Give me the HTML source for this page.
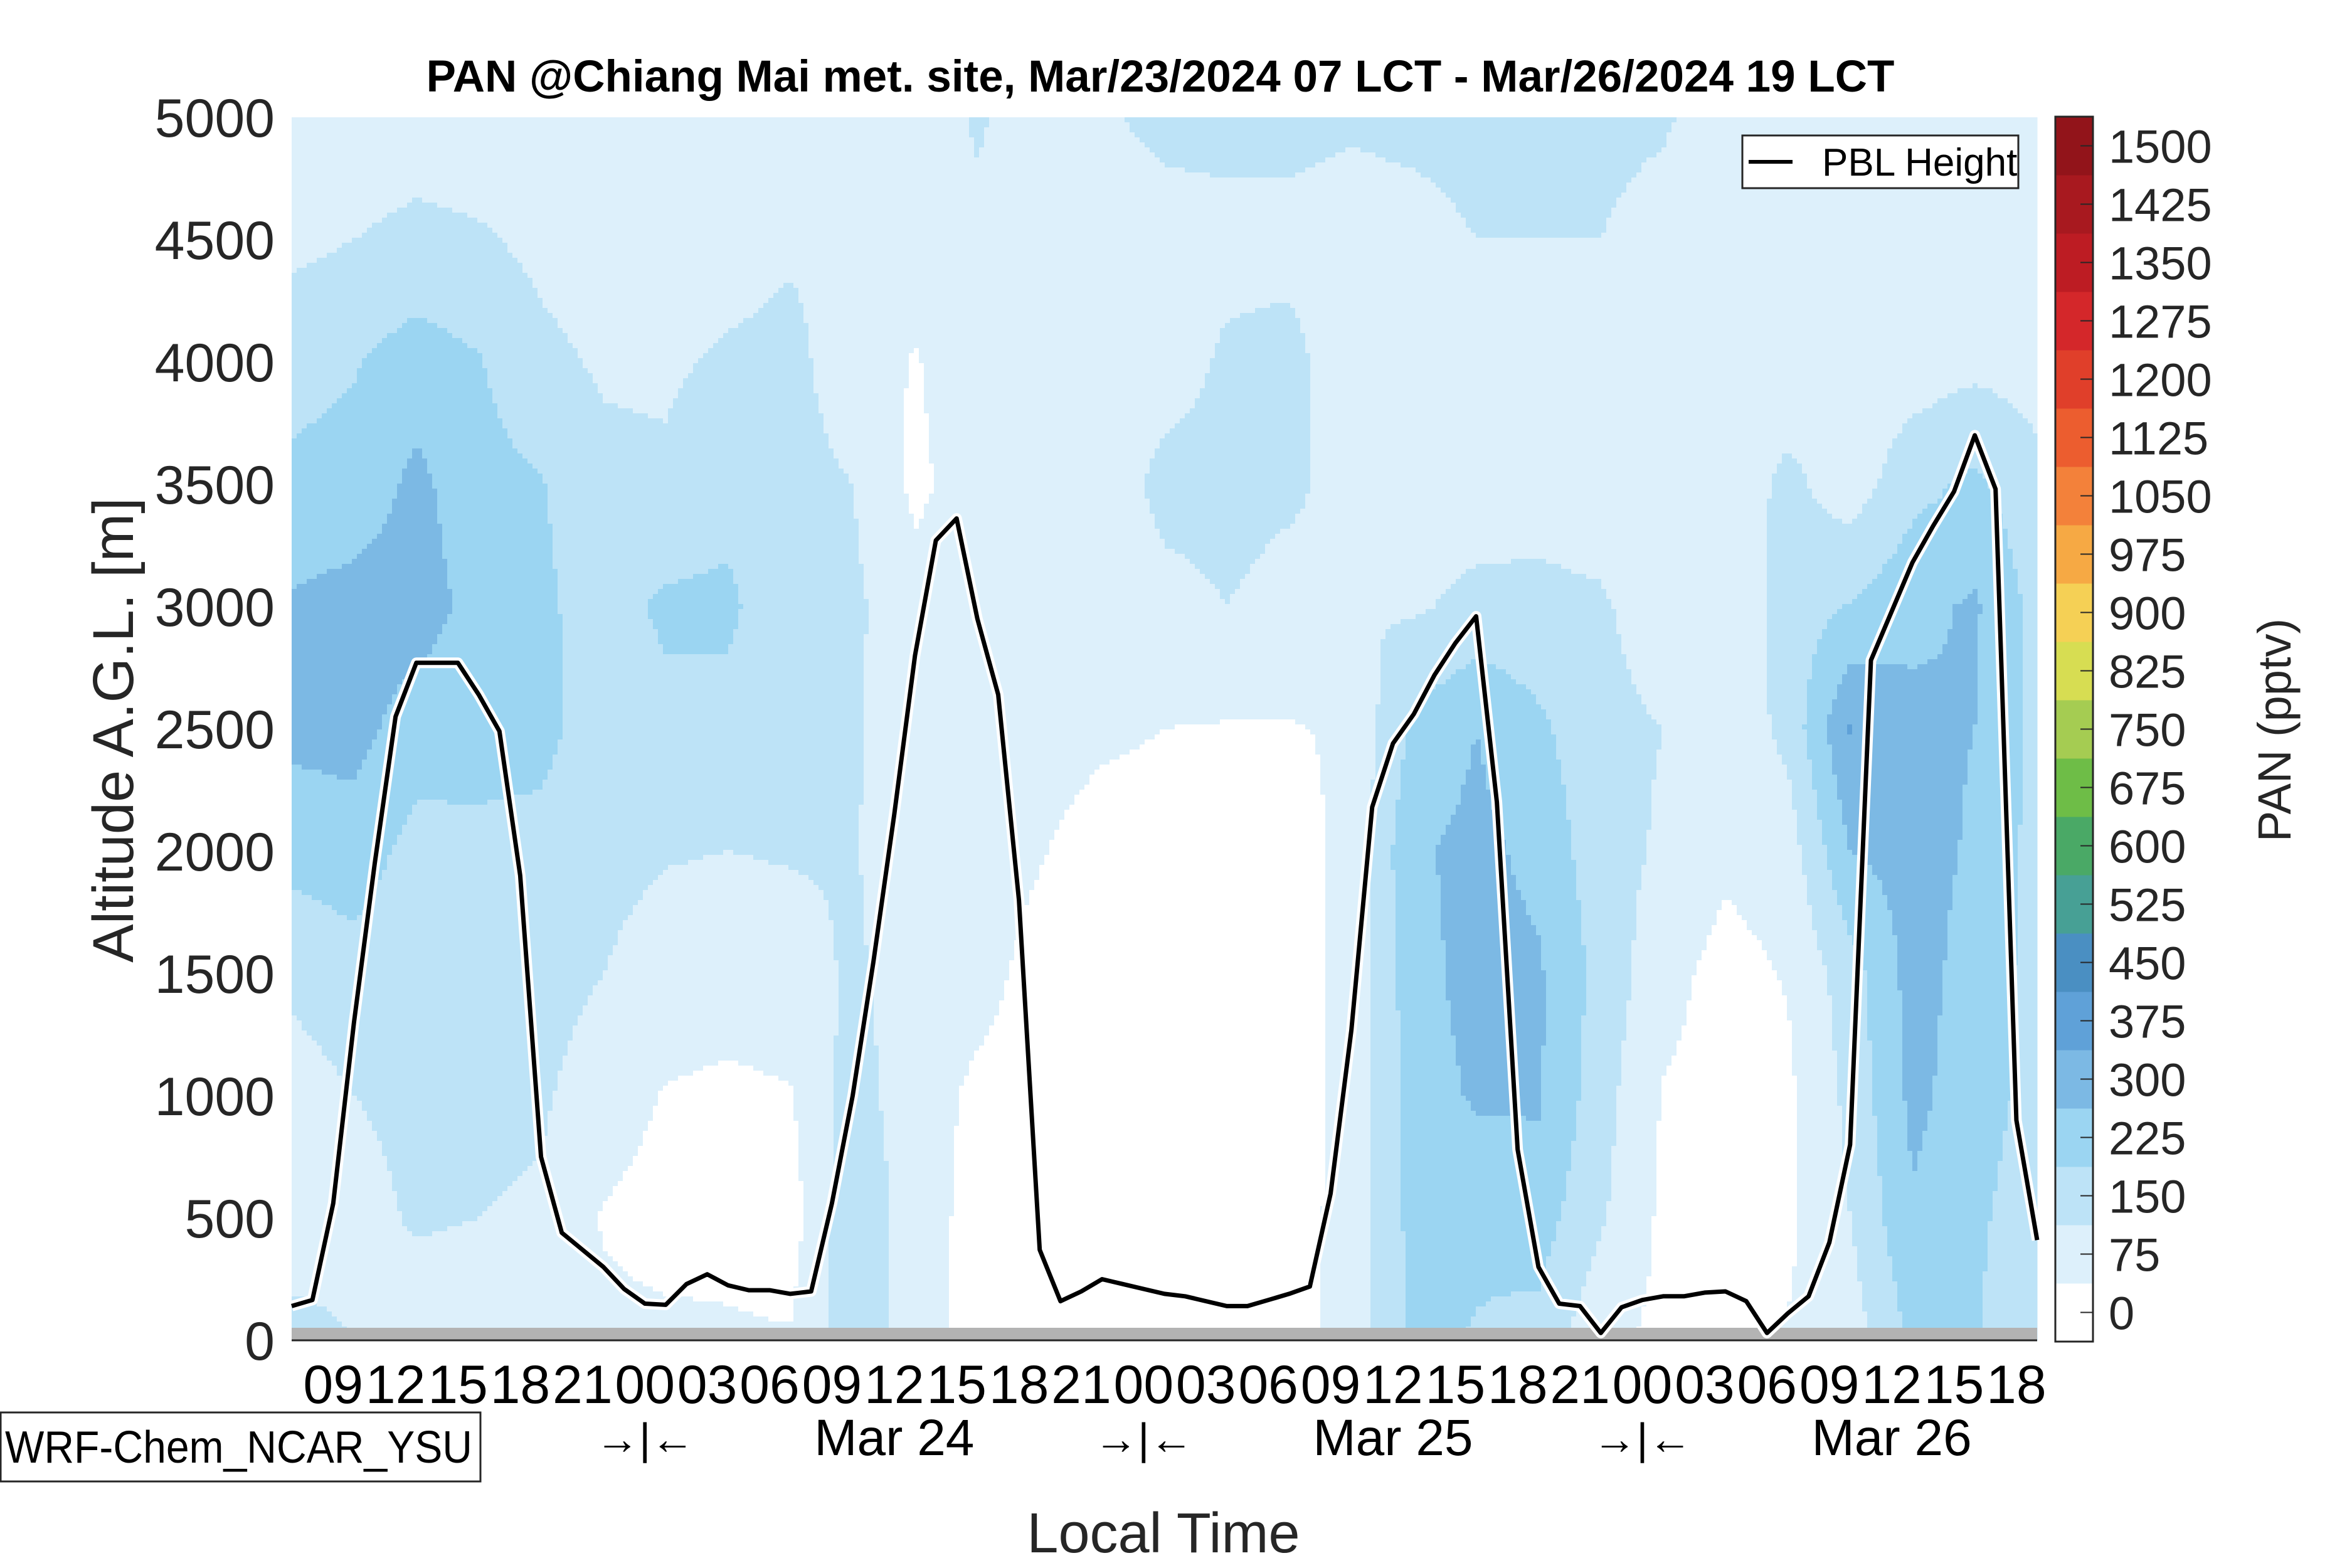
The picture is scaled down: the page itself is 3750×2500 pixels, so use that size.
<!DOCTYPE html>
<html><head><meta charset="utf-8">
<style>
html,body{margin:0;padding:0;background:#fff;}
svg{display:block;font-family:"Liberation Sans",sans-serif;}
</style></head>
<body>
<svg id="chart" xmlns="http://www.w3.org/2000/svg" width="3750" height="2500" viewBox="0 0 3750 2500">
<g id="field"></g>
<rect x="465" y="2117" width="2783" height="20" fill="#b3b3b3"/>
<g id="pbl"></g>
<line x1="465" y1="2137" x2="3248" y2="2137" stroke="#262626" stroke-width="3"/>
<g id="yticks"></g>
<g id="xticks"></g>
<g id="cbar"></g>
<text x="1850" y="146" font-size="71" font-weight="bold" text-anchor="middle" fill="#000">PAN @Chiang Mai met. site, Mar/23/2024 07 LCT - Mar/26/2024 19 LCT</text>
<text x="0" y="0" transform="translate(212,1164) rotate(-90)" font-size="92" text-anchor="middle" fill="#262626">Altitude A.G.L. [m]</text>
<text x="1855" y="2475" font-size="90" text-anchor="middle" fill="#262626">Local Time</text>
<text x="0" y="0" transform="translate(3652,1164) rotate(-90)" font-size="74" text-anchor="middle" fill="#262626">PAN (pptv)</text>
<g>
<rect x="1" y="2252" width="765" height="110" fill="#fff" stroke="#262626" stroke-width="3"/>
<text x="8" y="2332" font-size="72" textLength="745" lengthAdjust="spacingAndGlyphs" fill="#000">WRF-Chem_NCAR_YSU</text>
</g>
<g>
<rect x="2778" y="216" width="440" height="84" fill="#fff" stroke="#262626" stroke-width="3"/>
<line x1="2788" y1="258" x2="2858" y2="258" stroke="#000" stroke-width="6"/>
<text x="2905" y="280" font-size="62" fill="#000">PBL Height</text>
</g>
</svg>
<script>
// ---- data ----
const timeHours = [0,3,6,9,12,15,18,21,24,27,30,33,36,39,42,45,48,51,54,57,60,63,66,69,72,75,78,81,84];
const altitudes = [0,500,1000,1500,2000,2500,3000,3500,4000,4500,5000];
const panGrid = [
[180,100,110,170,250,320,310,240,200,130,100],
[150,120,150,200,260,330,330,250,220,150,100],
[100,160,170,180,200,260,340,320,260,170,110],
[100,150,170,220,210,250,270,250,230,160,100],
[100,140,160,180,200,250,240,230,170,130,100],
[90,70,110,150,170,180,190,170,140,110,95],
[90,50,70,120,155,200,240,160,140,100,95],
[85,50,60,110,150,200,240,200,160,120,100],
[80,40,70,120,155,170,170,175,170,140,100],
[200,210,180,160,155,160,165,150,110,140,150],
[110,110,110,120,110,100,100,60,70,110,100],
[50,50,60,100,110,110,120,110,120,130,160],
[50,50,50,50,80,110,120,110,110,100,110],
[40,40,40,40,40,90,110,110,110,110,140],
[40,30,30,30,40,75,130,170,120,120,170],
[40,30,30,30,40,70,150,170,160,130,170],
[40,35,35,35,40,70,130,160,170,130,170],
[110,110,100,100,100,85,150,130,110,120,160],
[240,250,260,270,290,240,140,110,100,130,165],
[220,240,310,330,320,300,170,110,100,150,170],
[200,260,310,310,280,240,170,120,100,150,170],
[90,160,180,200,180,170,160,110,100,150,170],
[60,60,70,100,140,150,110,100,100,120,160],
[70,50,50,50,90,100,100,100,100,100,110],
[80,60,60,80,110,170,180,170,100,100,100],
[110,150,170,190,300,380,230,110,100,100,110],
[240,290,320,330,330,320,280,200,110,100,100],
[230,240,260,270,290,300,310,240,130,100,100],
[160,180,200,200,200,200,200,170,120,100,100]
];
const pblHours = [];
for (let i = 0; i <= 84; i++) pblHours.push(i);
const pblHeight = [140,165,560,1300,1950,2550,2770,2770,2770,2640,2490,1900,750,440,370,300,210,150,145,230,270,225,205,205,190,200,560,1000,1550,2150,2800,3270,3360,2950,2640,1800,370,160,200,250,230,210,190,180,160,140,140,165,190,220,600,1270,2180,2440,2560,2720,2850,2960,2200,780,300,150,140,30,135,165,180,180,195,200,160,30,110,180,400,800,2780,2980,3180,3330,3470,3700,3480,900,410];
const yTickValues = [0,500,1000,1500,2000,2500,3000,3500,4000,4500,5000];
const xTickHours = [2,5,8,11,14,17,20,23,26,29,32,35,38,41,44,47,50,53,56,59,62,65,68,71,74,77,80,83];
const xTickLabels = ["09","12","15","18","21","00","03","06","09","12","15","18","21","00","03","06","09","12","15","18","21","00","03","06","09","12","15","18"];
const dayBreakHours = [17,41,65];
const dateHours = [29,53,77];
const dateLabels = ["Mar 24","Mar 25","Mar 26"];
const levelValues = [0,75,150,225,300,375,450,525,600,675,750,825,900,975,1050,1125,1200,1275,1350,1425,1500];
const levelColors = ["#ffffff","#ddf0fb","#bde3f7","#9bd5f2","#7cb9e4","#5fa1d8","#4a8fc2","#47a095","#4aa966","#6ebd47","#a5cc52","#d7dd52","#f5d055","#f6a944","#f3813a","#ec5d2f","#e03f2a","#d4272a","#bd1c23","#a8191f","#92141a"];

// ---- axes ----
const PX0 = 465, PX1 = 3248, PY0 = 2137, PY1 = 187;
const xScale = h => PX0 + h * (PX1 - PX0) / 84;
const yScale = a => PY0 - a * (PY0 - PY1) / 5000;
const NS = "http://www.w3.org/2000/svg";
function mk(tag, attrs, parent) {
  const e = document.createElementNS(NS, tag);
  for (const k in attrs) e.setAttribute(k, attrs[k]);
  parent.appendChild(e);
  return e;
}
function levelIndex(v) {
  let idx = 0;
  for (let i = 0; i < levelValues.length; i++) if (v >= levelValues[i]) idx = i;
  return idx;
}
function sample(h, a) {
  let ci = 0;
  while (ci < timeHours.length - 2 && h > timeHours[ci + 1]) ci++;
  let ri = 0;
  while (ri < altitudes.length - 2 && a > altitudes[ri + 1]) ri++;
  const ft = Math.min(1, Math.max(0, (h - timeHours[ci]) / (timeHours[ci + 1] - timeHours[ci])));
  const fa = Math.min(1, Math.max(0, (a - altitudes[ri]) / (altitudes[ri + 1] - altitudes[ri])));
  const v00 = panGrid[ci][ri], v01 = panGrid[ci][ri + 1], v10 = panGrid[ci + 1][ri], v11 = panGrid[ci + 1][ri + 1];
  return (v00 * (1 - ft) + v10 * ft) * (1 - fa) + (v01 * (1 - ft) + v11 * ft) * fa;
}

// ---- contour field ----
const field = document.getElementById('field');
const cell = 8;
function addRun(x0, x1, y, h, idx) {
  const r = mk('rect', {x: x0, y: y, width: x1 - x0 + 0.5, height: h + 0.5, fill: levelColors[idx]}, field);
  
  
}
for (let py = PY1; py < PY0; py += cell) {
  const ch = Math.min(cell, PY0 - py);
  const a = (PY0 - (py + ch / 2)) * 5000 / (PY0 - PY1);
  let runStart = PX0, runIdx = -1;
  for (let px = PX0; px < PX1; px += cell) {
    const cw = Math.min(cell, PX1 - px);
    const h = (px + cw / 2 - PX0) * 84 / (PX1 - PX0);
    const idx = levelIndex(sample(h, a));
    if (idx !== runIdx) {
      if (runIdx >= 0) addRun(runStart, px, py, ch, runIdx);
      runStart = px; runIdx = idx;
    }
  }
  if (runIdx >= 0) addRun(runStart, PX1, py, ch, runIdx);
}

// ---- PBL line ----
const pbl = document.getElementById('pbl');
const pts = pblHours.map((h, i) => xScale(h).toFixed(1) + ',' + yScale(pblHeight[i]).toFixed(1)).join(' ');
const halo = mk('polyline', {points: pts, fill: 'none', stroke: '#fff', 'stroke-width': 17, 'stroke-linejoin': 'round'}, pbl);


const line = mk('polyline', {points: pts, fill: 'none', stroke: '#000', 'stroke-width': 7, 'stroke-linejoin': 'round'}, pbl);



// ---- y ticks ----
const yt = document.getElementById('yticks');
yTickValues.forEach(v => {
  const t = mk('text', {x: 438, y: yScale(v) + 31, 'font-size': 86, 'text-anchor': 'end', fill: '#262626'}, yt);
  t.textContent = v;
  
  
});

// ---- x ticks ----
const xt = document.getElementById('xticks');
xTickHours.forEach((h, i) => {
  const t = mk('text', {x: xScale(h), y: 2237, 'font-size': 86, 'text-anchor': 'middle', fill: '#000'}, xt);
  t.textContent = xTickLabels[i];
  
  
});
dayBreakHours.forEach(h => {
  const t = mk('text', {x: xScale(h), y: 2318, 'font-size': 70, 'text-anchor': 'middle', fill: '#000'}, xt);
  t.textContent = '\u2192|\u2190';
  
  
});
dateHours.forEach((h, i) => {
  const t = mk('text', {x: xScale(h), y: 2320, 'font-size': 82, 'text-anchor': 'middle', fill: '#000'}, xt);
  t.textContent = dateLabels[i];
  
  
});

// ---- colorbar ----
const cb = document.getElementById('cbar');
const CBX = 3277, CBW = 60, CBB = 2139, CBT = 186;
const band = (CBB - CBT) / levelValues.length;
levelValues.forEach((v, i) => {
  const r = mk('rect', {x: CBX, y: CBB - (i + 1) * band, width: CBW, height: band + 0.5, fill: levelColors[i]}, cb);
  
  
  const tk = mk('line', {x1: CBX + CBW - 20, x2: CBX + CBW, y1: CBB - (i + 0.5) * band, y2: CBB - (i + 0.5) * band, stroke: '#262626', 'stroke-width': 2}, cb);
  
  
  const t = mk('text', {x: 3362, y: CBB - (i + 0.5) * band + 27, 'font-size': 74, fill: '#262626'}, cb);
  t.textContent = v;
  
  
});
const cbo = mk('rect', {x: CBX, y: CBT, width: CBW, height: CBB - CBT, fill: 'none', stroke: '#262626', 'stroke-width': 3}, cb);


</script>
</body></html>
